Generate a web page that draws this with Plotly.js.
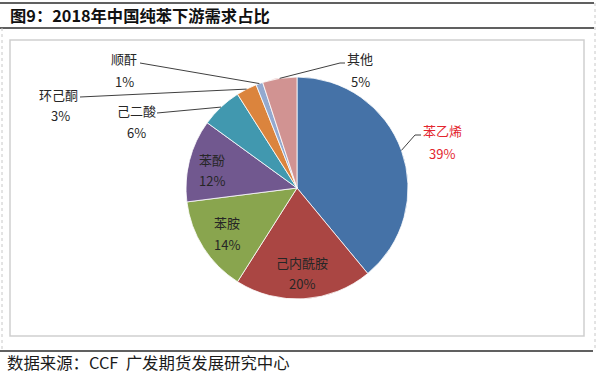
<!DOCTYPE html>
<html><head><meta charset="utf-8">
<script src="https://cdn.plot.ly/plotly-3.0.1.min.js"></script>
<style>html,body{margin:0;padding:0;background:#fff;}#chart{width:600px;height:373px;}</style>
</head><body><div id="chart"></div>
<script>
const categories = ['苯乙烯','己内酰胺','苯胺','苯酚','己二酸','环己酮','顺酐','其他'];
const shares = [39, 20, 14, 12, 6, 3, 1, 5];
const sliceColors = ['#4572A7','#AA4643','#89A54E','#71588F','#4198AF','#DB843D','#93A9CF','#D19392'];
const titleText = '图9：2018年中国纯苯下游需求占比';
const sourceText = '数据来源：CCF  广发期货发展研究中心';

const W = 600, H = 373;
const cx = 297, cy = 188, R = 111;
const px = x => x / W, py = y => 1 - y / H;

// label layout (pixel positions of text centres) and leader elbows
const labelPos = {
  '苯乙烯': {n:[442,130], p:[442,153], color:'#E3262E', lead:[[415,135],[421,135]]},
  '己内酰胺': {n:[302,262], p:[302,283]},
  '苯胺': {n:[227,223], p:[227,244]},
  '苯酚': {n:[212,159], p:[212,180]},
  '己二酸': {n:[136,111], p:[136,132], lead:[[157,113]]},
  '环己酮': {n:[58,95], p:[60,115], lead:[[80,97]]},
  '顺酐': {n:[124,58], p:[124,81], lead:[[140,63]]},
  '其他': {n:[360,58], p:[360,81], lead:[[340,63],[345,63]]}
};

const total = shares.reduce((a,b)=>a+b,0);
const annotations = [], shapes = [];
let cum = 0;
categories.forEach((c,i)=>{
  const v = shares[i];
  const mid = (cum + v/2) / total * 2*Math.PI;
  cum += v;
  const L = labelPos[c];
  const col = L.color || '#262626';
  annotations.push({x:px(L.n[0]), y:py(L.n[1]), xref:'paper', yref:'paper', text:c, showarrow:false,
    font:{family:'Noto Sans CJK SC', size:13, color:col}, xanchor:'center', yanchor:'middle'});
  annotations.push({x:px(L.p[0]), y:py(L.p[1]), xref:'paper', yref:'paper', text:Math.round(v/total*100)+'%', showarrow:false,
    font:{family:'Noto Sans CJK SC', size:13, color:col}, xanchor:'center', yanchor:'middle'});
  if (L.lead) {
    const ax = cx + R*Math.sin(mid), ay = cy - R*Math.cos(mid);
    let path = 'M' + px(ax) + ',' + py(ay);
    L.lead.forEach(p=>{ path += ' L' + px(p[0]) + ',' + py(p[1]); });
    shapes.push({type:'path', xref:'paper', yref:'paper', path:path, line:{color:'#404040', width:1}});
  }
});

// frame
shapes.push({type:'line', xref:'paper', yref:'paper', x0:0, x1:px(594), y0:py(3), y1:py(3), line:{color:'#2b2b2b', width:1.5}});
shapes.push({type:'line', xref:'paper', yref:'paper', x0:0, x1:px(594), y0:py(28), y1:py(28), line:{color:'#2b2b2b', width:1.5}});
shapes.push({type:'line', xref:'paper', yref:'paper', x0:0, x1:px(593), y0:py(351), y1:py(351), line:{color:'#2b2b2b', width:1.5}});
shapes.push({type:'rect', xref:'paper', yref:'paper', x0:px(10), x1:px(584), y0:py(336), y1:py(40), line:{color:'#cfcfcf', width:1.5}});
shapes.push({type:'line', xref:'paper', yref:'paper', x0:px(595), x1:px(595), y0:py(3), y1:py(351), line:{color:'#c8c8c8', width:1, dash:'dot'}});
shapes.push({type:'line', xref:'paper', yref:'paper', x0:px(2), x1:px(2), y0:py(28), y1:py(351), line:{color:'#c8c8c8', width:1, dash:'dot'}});

annotations.push({x:px(5), y:py(362), xref:'paper', yref:'paper', text:sourceText, showarrow:false,
  xanchor:'left', yanchor:'middle', font:{family:'Noto Sans CJK SC', size:16.4, color:'#1a1a1a'}});

const trace = {
  type:'pie', labels:categories, values:shares, sort:false, direction:'clockwise', rotation:0,
  marker:{colors:sliceColors, line:{color:'#ffffff', width:0.8}},
  textinfo:'none', hoverinfo:'label+percent', showlegend:false,
  domain:{x:[px(cx-R), px(cx+R)], y:[py(cy+R), py(cy-R)]}
};

const layout = {
  width:W, height:H, margin:{l:0,r:0,t:0,b:0}, paper_bgcolor:'#ffffff',
  title:{text:'<b>'+titleText+'</b>', x:px(10), xanchor:'left', xref:'paper', y:py(16), yanchor:'middle', yref:'paper',
    font:{family:'Noto Sans CJK SC', size:16.3, color:'#111'}},
  shapes:shapes, annotations:annotations, showlegend:false
};
Plotly.newPlot('chart', [trace], layout, {displayModeBar:false, staticPlot:true});
</script></body></html>
